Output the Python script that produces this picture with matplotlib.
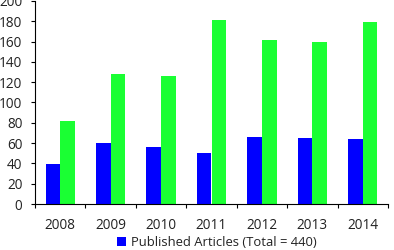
import matplotlib.pyplot as plt
import numpy as np

# Data
years = ['2008', '2009', '2010', '2011', '2012', '2013', '2014']
published = [39, 60, 56, 50, 66, 65, 64]
other = [82, 128, 126, 181, 162, 160, 179]

plt.rcParams['font.family'] = ['Open Sans', 'DejaVu Sans']

fig = plt.figure(figsize=(3.94, 2.5), dpi=100)
ax = fig.add_axes([35/394, 46/250, 353/394, 203/250])

x = np.arange(len(years))
w = 0.29
ax.bar(x - w/2, published, w, color='#0000ff', label='Published Articles (Total = 440)')
ax.bar(x + w/2, other, w, color='#1aff33')

ax.set_xlim(-0.5, len(years) - 0.5)
ax.set_ylim(0, 200)
ax.set_yticks(range(0, 201, 20))
ax.set_xticks(x)
ax.set_xticklabels(years)
ax.set_xticks(np.arange(-0.5, len(years)), minor=True)
ax.tick_params(axis='x', which='major', length=0, pad=10, labelsize=9.8, colors='#222222')
ax.tick_params(axis='x', which='minor', length=3, width=0.8, direction='out', color='black')
ax.tick_params(axis='y', length=3, width=0.8, labelsize=9.8, pad=6, labelcolor='#222222')

for s in ['top', 'right']:
    ax.spines[s].set_visible(False)
for s in ['left', 'bottom']:
    ax.spines[s].set_linewidth(0.8)

fig.legend(loc='center', bbox_to_anchor=(0.55, 0.03), frameon=False,
           fontsize=9.4, handlelength=0.7, handleheight=0.7, handletextpad=0.4,
           labelcolor='#222222')

fig.savefig('out.png', dpi=100)
